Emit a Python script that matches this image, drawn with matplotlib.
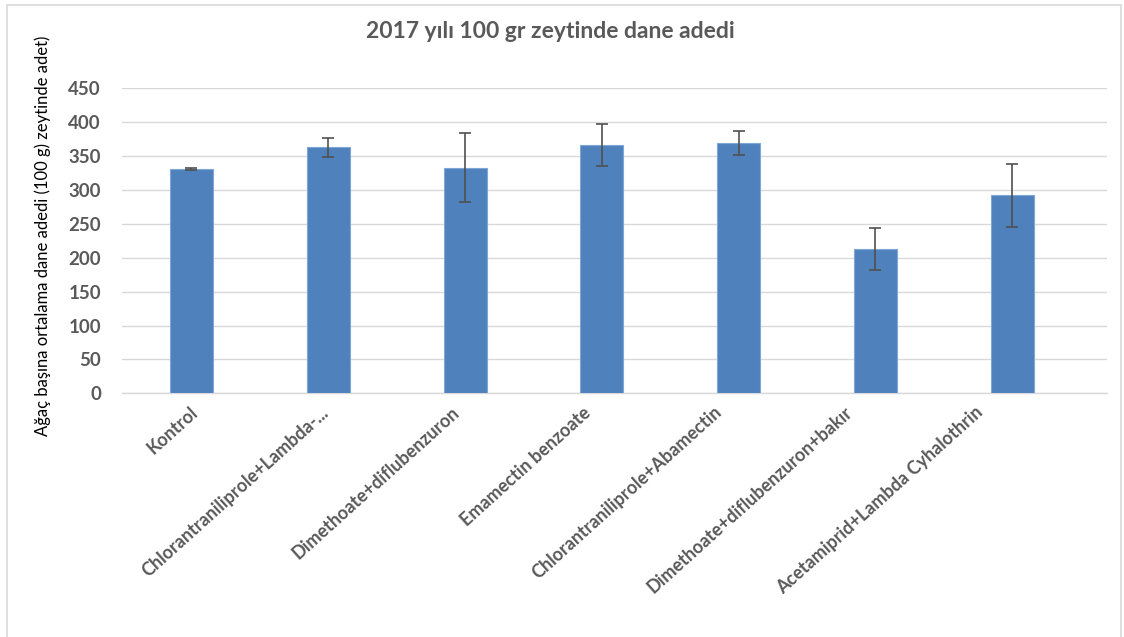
import matplotlib.pyplot as plt
from matplotlib.patches import Rectangle
from matplotlib.transforms import ScaledTranslation
import numpy as np

# values
categories = [
    "Kontrol",
    "Chlorantraniliprole+Lambda-...",
    "Dimethoate+diflubenzuron",
    "Emamectin benzoate",
    "Chlorantraniliprole+Abamectin",
    "Dimethoate+diflubenzuron+bakır",
    "Acetamiprid+Lambda Cyhalothrin",
]
means = [331, 363, 333, 366, 369, 213, 292]
errors = [1.5, 14, 51, 31, 18, 31, 46]
yticks = [0, 50, 100, 150, 200, 250, 300, 350, 400, 450]

title = "2017 yılı 100 gr zeytinde dane adedi"
ylabel = "Ağaç başına ortalama dane adedi (100 g) zeytinde adet)"

text_gray = "#595959"
plt.rcParams["font.family"] = ["Lato", "DejaVu Sans"]

fig = plt.figure(figsize=(11.24, 6.37), dpi=100)
ax = fig.add_axes([0.1083, 0.3826, 0.8763, 0.4788])

x = np.arange(len(categories))
ax.bar(x, means, width=0.315, color="#4F81BD", edgecolor="#7FA7D6",
       linewidth=0.8, zorder=3)
ax.errorbar(x, means, yerr=errors, fmt="none", ecolor="#505050",
            elinewidth=1.2, capsize=4, capthick=1.2, zorder=4)

# the reference plot area runs on a bit past the last bar
ax.set_xlim(-0.51, 6.69)
ax.set_ylim(0, 450)
ax.set_yticks(yticks)
ax.grid(axis="y", color="#D9D9D9", linewidth=1, zorder=0)
ax.set_axisbelow(True)
for s in ["top", "right", "left"]:
    ax.spines[s].set_visible(False)
ax.spines["bottom"].set_color("#D9D9D9")
ax.spines["bottom"].set_linewidth(1)

ax.tick_params(axis="both", length=0)
ax.tick_params(axis="y", pad=15, labelsize=13.5, labelcolor=text_gray)
ax.set_xticks(x)
ax.set_xticklabels(categories, rotation=42, ha="right", va="center",
                   rotation_mode="anchor", fontsize=13, color=text_gray,
                   fontweight="bold")
ax.tick_params(axis="x", pad=12)
# labels drift left across the axis in the reference
for i, lbl in enumerate(ax.get_xticklabels()):
    shift = ScaledTranslation((4 - 6 * i) / 100, 0, fig.dpi_scale_trans)
    lbl.set_transform(lbl.get_transform() + shift)
for lbl in ax.get_yticklabels():
    lbl.set_fontweight("bold")

fig.text(550 / 1124, 1 - 32 / 637, title, ha="center", va="center",
         fontsize=16.5, fontweight="bold", color=text_gray)
fig.text(43 / 1124, 1 - 236 / 637, ylabel, rotation=90, ha="center",
         va="center", fontsize=12, color="black")

# outer chart frame (bottom edge lies below the picture)
fig.patches.append(Rectangle((7 / 1124, -0.05), 1114 / 1124,
                             1.05 - 5 / 637, transform=fig.transFigure,
                             fill=False, edgecolor="#D9D9D9", linewidth=1.2))

fig.savefig("out.png", dpi=100)
